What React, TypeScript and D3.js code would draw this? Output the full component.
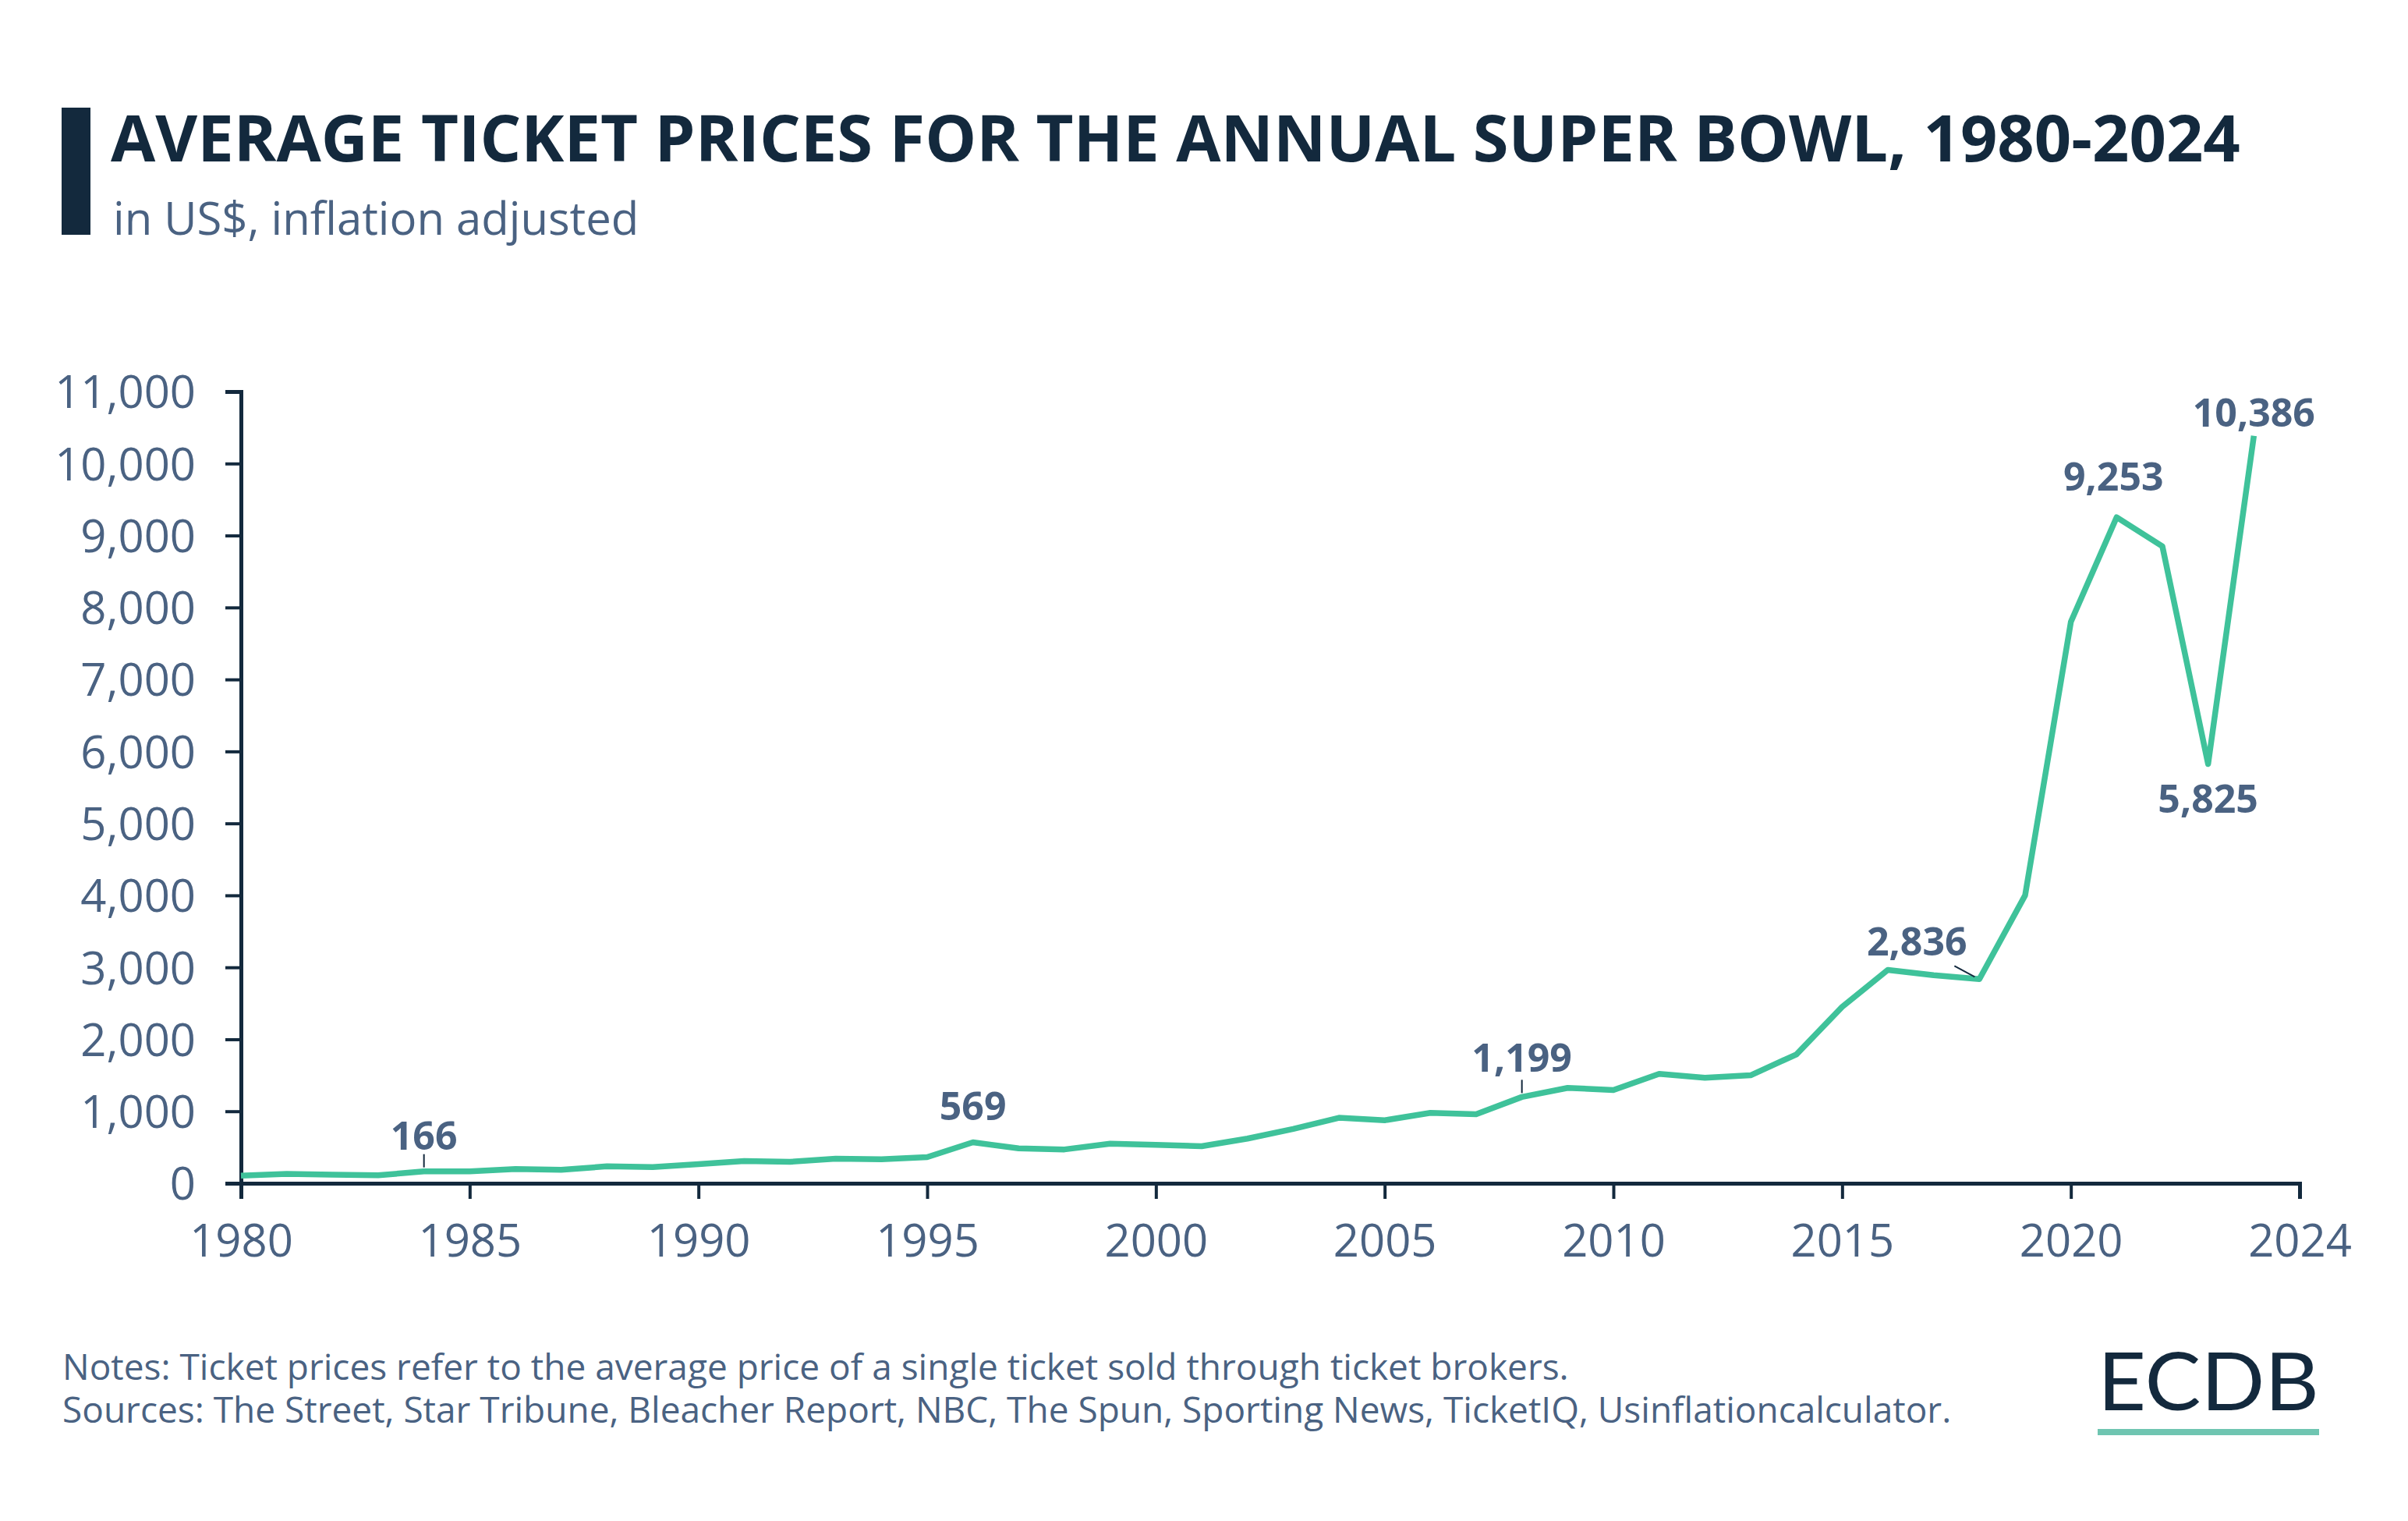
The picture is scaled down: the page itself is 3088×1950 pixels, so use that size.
import { FC, useEffect, useRef } from 'react'
import * as d3 from 'd3'

const years = [
  1980, 1981, 1982, 1983, 1984, 1985, 1986, 1987, 1988, 1989,
  1990, 1991, 1992, 1993, 1994, 1995, 1996, 1997, 1998, 1999,
  2000, 2001, 2002, 2003, 2004, 2005, 2006, 2007, 2008, 2009,
  2010, 2011, 2012, 2013, 2014, 2015, 2016, 2017, 2018, 2019,
  2020, 2021, 2022, 2023, 2024
]

const prices = [
  105, 130, 120, 110, 166, 166, 197, 187, 235, 225,
  266, 308, 298, 342, 332, 363, 569, 485, 470, 550,
  535, 515, 620, 755, 910, 875, 978, 960, 1199, 1325,
  1295, 1520, 1465, 1500, 1790, 2450, 2965, 2890, 2836, 4000,
  7800, 9253, 8850, 5825, 10386
]

const labelledYears = [1984, 1996, 2008, 2018, 2021, 2023, 2024]

const yTicks = [0, 1000, 2000, 3000, 4000, 5000, 6000, 7000, 8000, 9000, 10000, 11000]
const xTicks = [1980, 1985, 1990, 1995, 2000, 2005, 2010, 2015, 2020, 2025]
const xTickLabels = ['1980', '1985', '1990', '1995', '2000', '2005', '2010', '2015', '2020', '2024']

const title = 'AVERAGE TICKET PRICES FOR THE ANNUAL SUPER BOWL, 1980-2024'
const subtitle = 'in US$, inflation adjusted'
const notes = 'Notes: Ticket prices refer to the average price of a single ticket sold through ticket brokers.'
const sources = 'Sources: The Street, Star Tribune, Bleacher Report, NBC, The Spun, Sporting News, TicketIQ, Usinflationcalculator.'

const W = 3088
const H = 1950
const margin = { top: 502, right: 139, bottom: 433, left: 309 }

const navy = '#13293d'
const slate = '#4a6282'
const green = '#3fc29a'
const font = '"Open Sans", sans-serif'

// label placement relative to the point: dx, dy (baseline), leader type
const labelPos: Record<number, { dx: number; dy: number; leader?: 'v' | 'd' }> = {
  1984: { dx: 0, dy: -28, leader: 'v' },
  1996: { dx: 0, dy: -28 },
  2008: { dx: 0, dy: -32, leader: 'v' },
  2018: { dx: -80, dy: -30, leader: 'd' },
  2021: { dx: -4, dy: -34 },
  2023: { dx: 0, dy: 62 },
  2024: { dx: 0, dy: -12 },
}

const Chart: FC = () => {
  const svgRef = useRef<SVGSVGElement>(null)

  useEffect(() => {
    if (!svgRef.current) return
    const svg = d3.select(svgRef.current)
    svg.selectAll('*').remove()

    const x = d3.scaleLinear().domain([1980, 2025]).range([margin.left, W - margin.right])
    const y = d3.scaleLinear().domain([0, 11000]).range([H - margin.bottom, margin.top])

    // header
    svg.append('rect')
      .attr('x', 79).attr('y', 138).attr('width', 37).attr('height', 163)
      .attr('fill', navy)
    svg.append('text')
      .attr('x', 142).attr('y', 207)
      .attr('font-family', font).attr('font-weight', 700).attr('font-size', 83)
      .attr('fill', navy)
      .text(title)
    svg.append('text')
      .attr('x', 145).attr('y', 301)
      .attr('font-family', font).attr('font-size', 58)
      .attr('fill', slate)
      .text(subtitle)

    // axes
    const yAxis = svg.append('g')
      .attr('transform', `translate(${margin.left},0)`)
      .call(d3.axisLeft(y).tickValues(yTicks).tickSize(20).tickPadding(38).tickFormat(d3.format(',') as any))
    const xAxis = svg.append('g')
      .attr('transform', `translate(0,${H - margin.bottom})`)
      .call(d3.axisBottom(x).tickValues(xTicks).tickSize(20).tickPadding(30)
        .tickFormat((_, i) => xTickLabels[i]))

    for (const g of [yAxis, xAxis]) {
      g.select('.domain').attr('stroke', navy).attr('stroke-width', 5)
      g.selectAll('.tick line').attr('stroke', navy).attr('stroke-width', 4)
      g.selectAll('.tick text')
        .attr('fill', slate).attr('font-family', font).attr('font-size', 58)
    }
    yAxis.selectAll('.tick text').attr('dy', '0.36em')
    xAxis.selectAll('.tick text').attr('dy', '0.76em')

    // line
    const pts = years.map((yr, i) => ({ yr, v: prices[i] }))
    const line = d3.line<{ yr: number; v: number }>()
      .x(d => x(d.yr))
      .y(d => y(d.v))
    svg.append('path')
      .datum(pts)
      .attr('d', line)
      .attr('fill', 'none')
      .attr('stroke', green)
      .attr('stroke-width', 7.5)
      .attr('stroke-linejoin', 'round')

    // value labels
    const fmt = d3.format(',')
    const lab = svg.append('g')
    labelledYears.forEach(yr => {
      const v = prices[years.indexOf(yr)]
      const px = x(yr)
      const py = y(v)
      const p = labelPos[yr]
      if (p.leader === 'v') {
        lab.append('line')
          .attr('x1', px).attr('x2', px).attr('y1', py - 22).attr('y2', py - 5)
          .attr('stroke', navy).attr('stroke-width', 2)
      } else if (p.leader === 'd') {
        lab.append('line')
          .attr('x1', px - 32).attr('y1', py - 17).attr('x2', px - 6).attr('y2', py - 3)
          .attr('stroke', navy).attr('stroke-width', 2)
      }
      lab.append('text')
        .attr('x', px + p.dx).attr('y', py + p.dy)
        .attr('text-anchor', 'middle')
        .attr('font-family', font).attr('font-weight', 700).attr('font-size', 50)
        .attr('fill', slate)
        .text(fmt(v))
    })

    // footer
    svg.append('text')
      .attr('x', 80).attr('y', 1769)
      .attr('font-family', font).attr('font-size', 46).attr('fill', slate)
      .text(notes)
    svg.append('text')
      .attr('x', 80).attr('y', 1824)
      .attr('font-family', font).attr('font-size', 46).attr('fill', slate)
      .text(sources)

    // logo
    svg.append('text')
      .attr('x', 2690).attr('y', 1808)
      .attr('font-family', 'Lato, sans-serif').attr('font-size', 102).attr('font-weight', 400)
      .attr('textLength', 284).attr('lengthAdjust', 'spacingAndGlyphs')
      .attr('fill', navy)
      .text('ECDB')
    svg.append('rect')
      .attr('x', 2690).attr('y', 1832).attr('width', 284).attr('height', 8)
      .attr('fill', '#6fc5b1')
  }, [])

  return (
    <svg
      ref={svgRef}
      width={W}
      height={H}
      style={{ position: 'absolute', left: 0, top: 0, background: '#fff' }}
    />
  )
}

export default function App() {
  return <Chart />
}
